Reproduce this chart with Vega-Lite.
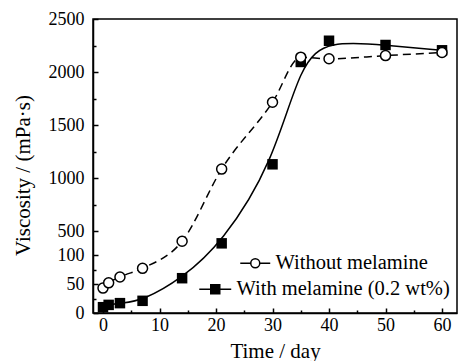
{
  "$schema": "https://vega.github.io/schema/vega-lite/v6.json",
  "width": 364,
  "height": 294,
  "autosize": {"type": "none"},
  "padding": {"left": 93, "top": 19, "right": 5, "bottom": 48},
  "datasets": {
    "without": [
      {"day": 0, "viscosity": 43, "series": "Without melamine"},
      {"day": 1, "viscosity": 52, "series": "Without melamine"},
      {"day": 3, "viscosity": 62, "series": "Without melamine"},
      {"day": 7, "viscosity": 77, "series": "Without melamine"},
      {"day": 14, "viscosity": 405, "series": "Without melamine"},
      {"day": 21, "viscosity": 1085, "series": "Without melamine"},
      {"day": 30, "viscosity": 1715, "series": "Without melamine"},
      {"day": 35, "viscosity": 2140, "series": "Without melamine"},
      {"day": 40, "viscosity": 2125, "series": "Without melamine"},
      {"day": 50, "viscosity": 2155, "series": "Without melamine"},
      {"day": 60, "viscosity": 2185, "series": "Without melamine"}
    ],
    "with": [
      {"day": 0, "viscosity": 10, "series": "With melamine (0.2 wt%)"},
      {"day": 1, "viscosity": 14, "series": "With melamine (0.2 wt%)"},
      {"day": 3, "viscosity": 17, "series": "With melamine (0.2 wt%)"},
      {"day": 7, "viscosity": 21, "series": "With melamine (0.2 wt%)"},
      {"day": 14, "viscosity": 60, "series": "With melamine (0.2 wt%)"},
      {"day": 21, "viscosity": 385, "series": "With melamine (0.2 wt%)"},
      {"day": 30, "viscosity": 1130, "series": "With melamine (0.2 wt%)"},
      {"day": 35, "viscosity": 2095, "series": "With melamine (0.2 wt%)"},
      {"day": 40, "viscosity": 2295, "series": "With melamine (0.2 wt%)"},
      {"day": 50, "viscosity": 2255, "series": "With melamine (0.2 wt%)"},
      {"day": 60, "viscosity": 2205, "series": "With melamine (0.2 wt%)"}
    ]
  },
  "encoding": {
    "x": {
      "field": "day",
      "type": "quantitative",
      "scale": {"domain": [-1.77, 62.65], "nice": false, "zero": false},
      "axis": {
        "title": "Time / day",
        "values": [0, 5, 10, 15, 20, 25, 30, 35, 40, 45, 50, 55, 60],
        "labelExpr": "datum.value % 10 === 0 ? datum.label : ''",
        "tickSize": -5,
        "tickDash": {"condition": {"test": "datum.value % 10 !== 0", "value": [3, 10]}, "value": [10, 0]},
        "labelPadding": 8,
        "titlePadding": 6,
        "titleFontSize": 21,
        "grid": false
      }
    },
    "y": {
      "field": "viscosity",
      "type": "quantitative",
      "scale": {"domain": [0, 100, 275, 2500], "range": [294, 236, 236, 0], "nice": false, "zero": false},
      "axis": {
        "title": "Viscosity / (mPa·s)",
        "values": [0, 25, 50, 75, 100, 500, 750, 1000, 1250, 1500, 1750, 2000, 2250, 2500],
        "labelExpr": "(datum.value <= 100 ? datum.value % 50 === 0 : datum.value % 500 === 0) ? datum.label : ''",
        "format": "d",
        "tickSize": -5,
        "tickDash": {"condition": {"test": "datum.value <= 100 ? datum.value % 50 !== 0 : datum.value % 500 !== 0", "value": [3, 10]}, "value": [10, 0]},
        "labelPadding": 14,
        "titlePadding": 15,
        "titleFontSize": 21,
        "titleY": 156,
        "grid": false
      }
    }
  },
  "layer": [
    {
      "data": {"name": "without"},
      "mark": {"type": "line", "interpolate": "monotone", "color": "black", "strokeWidth": 1.5, "strokeDash": [8, 5]}
    },
    {
      "data": {"name": "with"},
      "mark": {"type": "line", "interpolate": "basis", "color": "black", "strokeWidth": 1.5}
    },
    {
      "data": {"name": "with"},
      "mark": {"type": "point", "shape": "square", "filled": true, "size": 110, "opacity": 1},
      "encoding": {
        "fill": {
          "field": "series",
          "type": "nominal",
          "scale": {"range": ["black"]},
          "legend": {
            "title": null,
            "orient": "none",
            "legendX": 112,
            "legendY": 260,
            "padding": 0,
            "symbolType": "M-3.55,0H3.55M-1,-1H1V1H-1Z",
            "symbolSize": 81,
            "symbolStrokeColor": "black",
            "symbolStrokeWidth": 1.5,
            "symbolOpacity": 1,
            "labelOffset": 11
          }
        }
      }
    },
    {
      "data": {"name": "without"},
      "mark": {"type": "point", "shape": "circle", "filled": true, "fill": "white", "size": 100, "strokeWidth": 1.5, "opacity": 1},
      "encoding": {
        "stroke": {
          "field": "series",
          "type": "nominal",
          "scale": {"range": ["black"]},
          "legend": {
            "title": null,
            "orient": "none",
            "legendX": 152,
            "legendY": 234,
            "padding": 0,
            "symbolType": "M-3.33,0H-1M1,0H3.33M1,0A1,1,0,1,1,-1,0A1,1,0,1,1,1,0",
            "symbolSize": 81,
            "symbolFillColor": "white",
            "symbolStrokeWidth": 1.5,
            "symbolOpacity": 1,
            "labelOffset": 10
          }
        }
      }
    },
    {
      "data": {"values": [{}]},
      "mark": {"type": "text", "text": "=", "fontSize": 18, "fontWeight": "bold", "angle": -35, "font": "Liberation Serif", "color": "black"},
      "encoding": {"x": {"datum": -1.77}, "y": {"datum": 100}}
    },
    {
      "data": {"values": [{}]},
      "mark": {"type": "text", "text": "=", "fontSize": 18, "fontWeight": "bold", "angle": -35, "font": "Liberation Serif", "color": "black"},
      "encoding": {"x": {"datum": 62.65}, "y": {"datum": 100}}
    },
    {
      "data": {"values": [{}]},
      "mark": {"type": "text", "text": "=", "fontSize": 18, "fontWeight": "bold", "angle": -30, "font": "Liberation Serif", "color": "black"},
      "encoding": {"x": {"datum": 10.4}, "y": {"datum": 105}}
    },
    {
      "data": {"values": [{}]},
      "mark": {"type": "text", "text": "=", "fontSize": 18, "fontWeight": "bold", "angle": -30, "font": "Liberation Serif", "color": "black"},
      "encoding": {"x": {"datum": 19.3}, "y": {"datum": 100}}
    }
  ],
  "config": {
    "font": "Liberation Serif",
    "view": {"stroke": "black", "strokeWidth": 1.5},
    "axis": {
      "labelFont": "Liberation Serif",
      "labelFontSize": 18,
      "labelColor": "black",
      "titleFont": "Liberation Serif",
      "titleFontWeight": "normal",
      "titleColor": "black",
      "domainColor": "black",
      "domainWidth": 1.5,
      "tickColor": "black",
      "tickWidth": 1.5
    },
    "legend": {
      "labelFont": "Liberation Serif",
      "labelFontSize": 20.5,
      "labelColor": "black",
      "labelLimit": 0
    }
  }
}
